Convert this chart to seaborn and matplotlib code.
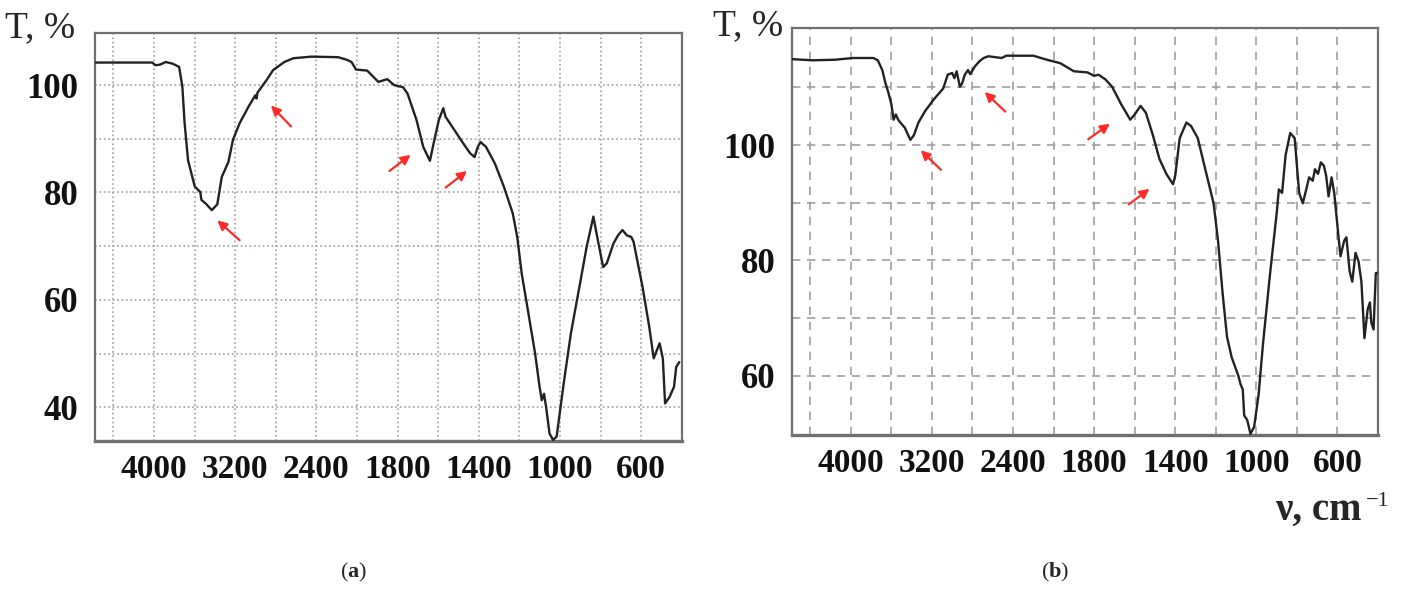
import numpy as np
import pandas as pd
import matplotlib
matplotlib.use("Agg")
import matplotlib.pyplot as plt
import seaborn as sns

# IR spectra (wavenumber cm-1, transmittance %)
wn_a = [4580, 4016, 3986, 3942, 3884, 3818, 3752, 3720, 3698, 3664, 3598, 3544,
        3532, 3488, 3430, 3376, 3332, 3266, 3222, 3156, 3068, 3002, 2990, 2980,
        2892, 2826, 2716, 2628, 2450, 2186, 2098, 2054, 2010, 1950, 1895, 1851,
        1817, 1773, 1751, 1707, 1674, 1641, 1619, 1597, 1575, 1564, 1520, 1476,
        1443, 1421, 1405, 1392, 1365, 1321, 1277, 1233, 1211, 1189, 1156, 1123,
        1101, 1090, 1079, 1068, 1052, 1035, 1017, 1002, 980, 947, 902, 869, 836,
        814, 788, 770, 737, 715, 693, 671, 649, 638, 594, 561, 539, 510, 494, 483,
        461, 439, 428, 413]
t_a = [104.2, 104.2, 103.7, 103.8, 104.3, 104.0, 103.4, 99.7, 92.9, 86.0, 81.1, 80.1,
       78.6, 77.9, 76.7, 77.8, 82.9, 85.7, 89.8, 92.9, 96.0, 98.1, 97.5, 98.6,
       100.9, 102.8, 104.3, 105.0, 105.3, 105.2, 104.7, 104.3, 102.9, 102.7, 100.6, 101.1,
       100.0, 99.6, 98.4, 93.5, 88.5, 85.9, 89.8, 93.5, 95.7, 94.1, 91.6, 89.1,
       87.3, 86.6, 88.5, 89.4, 88.5, 85.4, 81.1, 76.1, 71.7, 64.9, 57.5, 50.0,
       43.8, 41.3, 42.5, 39.8, 35.1, 33.9, 34.5, 38.8, 45.0, 53.7, 63.0, 69.9, 75.5,
       71.1, 66.1, 66.8, 70.5, 72.0, 73.0, 72.0, 71.7, 70.8, 62.4, 55.0, 49.1, 51.9, 49.1, 40.7,
       41.9, 43.8, 47.5, 48.4]

wn_b = [4578, 4378, 4156, 3978, 3778, 3734, 3689, 3658, 3631, 3600, 3578, 3556,
        3533, 3511, 3467, 3413, 3378, 3333, 3267, 3178, 3089, 3044, 3000, 2978,
        2956, 2924, 2902, 2876, 2844, 2822, 2778, 2733, 2690, 2644, 2512, 2467,
        2200, 2067, 1967, 1900, 1833, 1800, 1778, 1745, 1711, 1667, 1622, 1600,
        1571, 1545, 1511, 1478, 1444, 1411, 1400, 1378, 1345, 1322, 1289, 1256,
        1211, 1189, 1167, 1145, 1122, 1089, 1078, 1067, 1060, 1045, 1029, 1011,
        989, 967, 933, 900, 889, 873, 856, 833, 811, 800, 789, 771, 756, 740,
        722, 711, 696, 682, 667, 656, 644, 629, 616, 593, 585, 567, 556, 540,
        527, 511, 496, 482, 467, 451, 440, 433, 422, 411, 400]
t_b = [114.9, 114.7, 114.8, 115.1, 115.1, 114.7, 113.0, 110.7, 109.2, 107.1, 104.4, 105.3,
       104.4, 103.9, 103.0, 100.9, 101.7, 103.9, 105.9, 108.0, 109.8, 112.2, 112.5, 111.6,
       112.8, 110.1, 110.7, 112.2, 113.0, 112.3, 113.6, 114.5, 115.1, 115.4, 115.1, 115.5,
       115.5, 114.8, 114.2, 112.8, 112.6, 112.0, 112.2, 111.4, 110.1, 107.1, 104.4, 105.3,
       106.8, 105.6, 101.8, 97.6, 95.0, 93.2, 94.7, 101.2, 103.9, 103.3, 101.2, 96.4,
       89.9, 83.4, 74.5, 66.8, 63.2, 60.0, 58.5, 57.6, 53.1, 52.3, 49.9, 51.1,
       56.7, 65.6, 77.5, 88.1, 92.3, 91.7, 98.2, 102.1, 101.2, 96.4, 91.7, 89.9, 92.0, 94.4,
       93.8, 95.8, 95.0, 97.0, 96.4, 94.7, 91.1, 94.4, 91.7, 83.4, 80.7, 83.4, 84.0, 78.1,
       76.3, 81.3, 79.8, 76.3, 66.5, 71.5, 72.7, 69.2, 68.0, 77.8, 77.8]

# red arrows: (tail wn, tail T, head wn, head T)
arrows_a = [(3156, 71.1, 3376, 74.8), (2650, 92.3, 2848, 96.2),
            (1840, 84.0, 1736, 87.0), (1564, 80.9, 1458, 84.0)]
arrows_b = [(3111, 95.7, 3311, 99.1), (2476, 105.8, 2680, 109.2),
            (1829, 101.0, 1722, 103.7), (1629, 89.7, 1527, 92.4)]

x_major = [4000, 3200, 2400, 1800, 1400, 1000, 600]
x_minor = [4400, 3600, 2800, 2000, 1600, 1200, 800]
ya_major, ya_minor = [40, 60, 80, 100], [50, 70, 90]
yb_major, yb_minor = [60, 80, 100], [70, 90, 110]


# the x axis is stretched 2x below 2000 cm-1
def fwd(w):
    w = np.asarray(w, dtype=float)
    return np.where(w > 2000, 2000 + (w - 2000) / 2, w)


def inv(u):
    u = np.asarray(u, dtype=float)
    return np.where(u > 2000, 2000 + 2 * (u - 2000), u)


sns.set_style("white")
plt.rcParams['font.family'] = ['Liberation Serif', 'DejaVu Serif']
plt.rcParams['mathtext.fontset'] = 'custom'
plt.rcParams['mathtext.rm'] = 'Liberation Serif'
plt.rcParams['mathtext.bf'] = 'Liberation Serif:bold'

fig = plt.figure(figsize=(14.04, 5.95), dpi=100)
ax_a = fig.add_axes([0.0677, 0.2588, 0.418, 0.6857])
ax_b = fig.add_axes([0.5641, 0.2689, 0.4174, 0.684])

panels = [
    (ax_a, wn_a, t_a, arrows_a, (33.7, 109.7), ya_major, ya_minor, ':'),
    (ax_b, wn_b, t_b, arrows_b, (49.7, 120.3), yb_major, yb_minor, (0, (5, 4))),
]

for ax, wn, tt, arr, ylim, ymaj, ymin, gstyle in panels:
    df = pd.DataFrame({'wn': wn, 'T': tt})
    ax.set_xscale('function', functions=(fwd, inv))
    sns.lineplot(data=df, x='wn', y='T', ax=ax, sort=False, estimator=None,
                 color='#222222', lw=1.7, zorder=3)
    ax.set_xlim(4580, 400)
    ax.set_ylim(*ylim)
    ax.set_xticks(x_major)
    ax.set_xticks(x_minor, minor=True)
    ax.set_xticklabels([str(v) for v in x_major])
    ax.set_yticks(ymaj)
    ax.set_yticks(ymin, minor=True)
    ax.set_yticklabels([str(v) for v in ymaj])
    ax.grid(True, which='both', color='#a0a0a0', lw=1.2, ls=gstyle)
    ax.tick_params(which='both', length=0)
    ax.tick_params(axis='x', pad=9, labelsize=24)
    ax.tick_params(axis='y', pad=12, labelsize=25)
    for lab in ax.get_xticklabels() + ax.get_yticklabels():
        lab.set_fontweight('bold')
        lab.set_color('#111111')
    for sp in ax.spines.values():
        sp.set_color('#707070')
        sp.set_linewidth(1.6)
    ax.spines['bottom'].set_linewidth(2.4)
    ax.set_xlabel('')
    ax.set_ylabel('')
    for x0, y0, x1, y1 in arr:
        ax.annotate('', xy=(x1, y1), xytext=(x0, y0),
                    arrowprops=dict(arrowstyle='-|>', color='#ff2a2a', lw=1.6,
                                    mutation_scale=14, shrinkA=0, shrinkB=0))

fig.text(5 / 1404, 1 - 37 / 595, 'T, %', fontsize=27, va='baseline', ha='left')
fig.text(713 / 1404, 1 - 35 / 595, 'T, %', fontsize=27, va='baseline', ha='left')
fig.text(1275 / 1404, 1 - 520 / 595, 'ν, cm', fontsize=28, fontweight='bold',
         va='baseline', ha='left')
fig.text(1366 / 1404, 1 - 506 / 595, '−1', fontsize=16, va='baseline', ha='left')
fig.text(354 / 1404, 1 - 572 / 595, r'($\mathbf{a}$)', fontsize=16, va='center', ha='center')
fig.text(1055 / 1404, 1 - 572 / 595, r'($\mathbf{b}$)', fontsize=16, va='center', ha='center')

fig.savefig('out.png', dpi=100)
